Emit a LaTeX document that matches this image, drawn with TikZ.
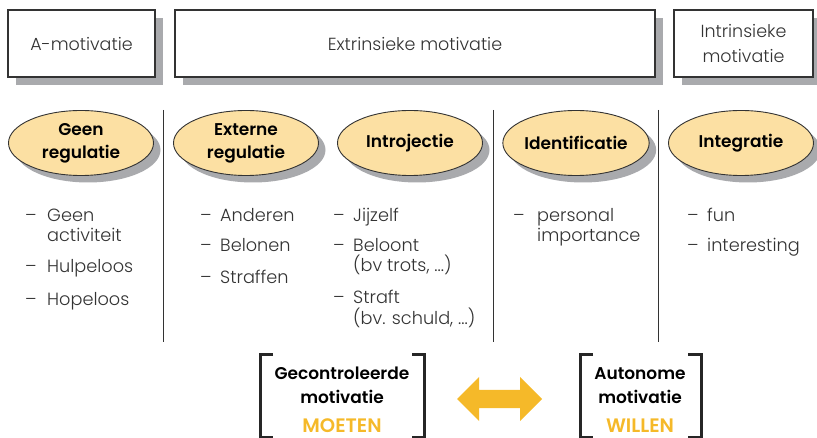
\documentclass[tikz,border=0pt]{standalone}
\usepackage{fontspec}
\setmainfont{Poppins}
\newfontfamily\lightfont{Poppins Light}
\newfontfamily\semifont{Poppins SemiBold}
\usetikzlibrary{shadows,shapes.geometric}
\definecolor{ink}{HTML}{333333}
\definecolor{shade}{HTML}{A9AAAD}
\definecolor{peach}{HTML}{FCE0A3}
\definecolor{gold}{HTML}{F5B929}
\begin{document}
\begin{tikzpicture}[x=1pt,y=-1pt,
 catbox/.style={draw=ink, line width=1.3pt, fill=white, inner sep=0,
   drop shadow={shadow xshift=8pt, shadow yshift=-8pt, fill=shade, opacity=1},
   font=\lightfont\fontsize{17.5}{25}\selectfont, text=ink, align=center, minimum height=67pt},
 regell/.style={ellipse, draw=ink, line width=0.9pt, fill=peach, minimum width=145pt,
   minimum height=65pt, inner sep=0,
   drop shadow={shadow xshift=7pt, shadow yshift=-7pt, fill=shade, opacity=1},
   font=\semifont\fontsize{17}{23}\selectfont, align=center, text=black},
 item/.style={anchor=base west, inner sep=0, font=\lightfont\fontsize{17.7}{20}\selectfont, text=ink},
 divider/.style={draw=ink, line width=0.9pt},
 bracket/.style={draw=black!85, line width=3pt},
 sumtext/.style={font=\semifont\fontsize{17}{22}\selectfont, anchor=base, inner sep=0},
 wishtext/.style={font=\semifont\fontsize{19.5}{22}\selectfont, anchor=base, inner sep=0, text=gold},
]
\useasboundingbox (0,0) rectangle (817,438);
% category boxes
\node[catbox, minimum width=147pt] (amot) at (81.5,43.5) {A-motivatie};
\node[catbox, minimum width=480pt] (emot) at (415,43.5) {Extrinsieke motivatie};
\node[catbox, minimum width=139pt] (imot) at (743.5,43.5) {Intrinsieke\\motivatie};
% dividers
\coordinate (d1t) at (163,110); \coordinate (d1b) at (163,342);
\coordinate (d2t) at (493,110); \coordinate (d2b) at (493,342);
\coordinate (d3t) at (658,110); \coordinate (d3b) at (658,342);
\draw[divider] (d1t) -- (d1b);
\draw[divider] (d2t) -- (d2b);
\draw[divider] (d3t) -- (d3b);
% regulation ellipses
\node[regell] (geen) at (81,143) {Geen\\regulatie};
\node[regell] (ext) at (246,143) {Externe\\regulatie};
\node[regell] (intro) at (410,143) {Introjectie};
\node[regell] (ident) at (576,143) {Identificatie};
\node[regell] (integ) at (741,143) {Integratie};
% column 1
\node[item] (c1d1) at (25,222) {–}; \node[item] (c1a) at (47,222) {Geen};
\node[item] (c1b) at (47,242) {activiteit};
\node[item] (c1d2) at (25,273) {–}; \node[item] (c1c) at (47,273) {Hulpeloos};
\node[item] (c1d3) at (25,306) {–}; \node[item] (c1e) at (47,306) {Hopeloos};
% column 2
\node[item] (c2d1) at (200,222) {–}; \node[item] (c2a) at (220,222) {Anderen};
\node[item] (c2d2) at (200,252) {–}; \node[item] (c2b) at (220,252) {Belonen};
\node[item] (c2d3) at (200,284) {–}; \node[item] (c2c) at (220,284) {Straffen};
% column 3
\node[item] (c3d1) at (333,222) {–}; \node[item] (c3a) at (353,222) {Jijzelf};
\node[item] (c3d2) at (333,252) {–}; \node[item] (c3b) at (353,252) {Beloont};
\node[item] (c3c) at (353,272) {(bv trots, ...)};
\node[item] (c3d3) at (333,304) {–}; \node[item] (c3e) at (353,304) {Straft};
\node[item] (c3f) at (353,325) {(bv. schuld, ...)};
% column 4
\node[item] (c4d1) at (513,222) {–}; \node[item] (c4a) at (537,222) {personal};
\node[item] (c4b) at (537,242) {importance};
% column 5
\node[item] (c5d1) at (687,222) {–}; \node[item] (c5a) at (707,222) {fun};
\node[item] (c5d2) at (687,252) {–}; \node[item] (c5b) at (707,252) {interesting};
% bottom groups
\node[sumtext] (g1) at (342,380) {Gecontroleerde};
\node[sumtext] (g2) at (342,403) {motivatie};
\node[wishtext] (g3) at (342,432) {MOETEN};
\node[sumtext] (a1) at (640,380) {Autonome};
\node[sumtext] (a2) at (640,403) {motivatie};
\node[wishtext] (a3) at (640,432) {WILLEN};
\draw[bracket] (273,355) -- (260,355) -- (260,437) -- (273,437);
\draw[bracket] (412,355) -- (424,355) -- (424,437) -- (412,437);
\draw[bracket] (593,355) -- (580,355) -- (580,437) -- (593,437);
\draw[bracket] (688,355) -- (701,355) -- (701,437) -- (688,437);
% double arrow between the two groups
\fill[gold] (457,399) -- (479,377) -- (479,390) -- (520,390) -- (520,377) -- (542,399)
  -- (520,421) -- (520,408) -- (479,408) -- (479,421) -- cycle;
\end{tikzpicture}
\end{document}
